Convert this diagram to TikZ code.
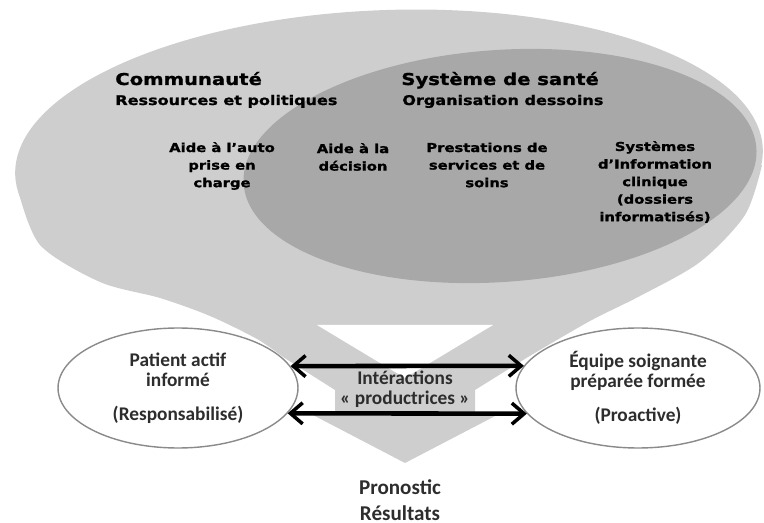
\documentclass[tikz,border=0pt]{standalone}
\usepackage{fontspec}
\setmainfont{Carlito}
\newfontfamily\heavyfont[FakeStretch=1.2,FakeBold=1.2]{DejaVu Sans Bold}
\usetikzlibrary{arrows.meta,shapes.geometric}
\definecolor{commgray}{RGB}{206,206,206}
\definecolor{santegray}{RGB}{168,168,168}
\definecolor{rimgray}{RGB}{138,138,138}
\definecolor{inkgray}{RGB}{45,45,45}
\begin{document}
\begin{tikzpicture}[x=0.02cm, y=-0.02cm,
    title/.style={font=\heavyfont\fontsize{9.3}{11}\selectfont, anchor=base west, inner sep=0pt},
    subtitle/.style={font=\heavyfont\fontsize{7.6}{10}\selectfont, anchor=base west, inner sep=0pt},
    item/.style={font=\heavyfont\fontsize{7}{10}\selectfont, align=center, inner sep=0pt},
    actor/.style={ellipse, draw=rimgray, line width=0.8pt, fill=white, minimum width=4.8cm,
        minimum height=2.4cm, align=center, text=inkgray, font=\bfseries\fontsize{11}{11.3}\selectfont},
    interact/.style={<->, >={Straight Barb[length=7pt,width=12pt,line width=2pt]}, line width=2.6pt},
    caption/.style={align=center, text=inkgray, inner sep=0pt}]
    \useasboundingbox (0,0) rectangle (764,523);
    % communaute and funnel
    \fill[commgray, rotate around={2:(389,162)}] (389,162) ellipse [x radius=374, y radius=152];
    \fill[commgray] plot[smooth] coordinates {(18,190) (40,245) (100,282) (160,298) (210,316) (257,339) (283,357)}
        -- (335,390) -- (335,414) -- (311,414) -- (405,463) -- (499,414) -- (475,414) -- (475,390)
        -- plot[smooth] coordinates {(528,357) (590,321) (640,296) (700,262) (745,215) (762,165)}
        -- (400,200) -- cycle;
    \fill[white] (317,325) -- (493,325) -- (405,378) -- cycle;
    % systeme de sante
    \fill[santegray, rotate around={4:(500,166)}] (500,166) ellipse [x radius=257, y radius=116];
    \node[title] (communaute) at (115,85) {Communauté};
    \node[subtitle] (ressources) at (115,105) {Ressources et politiques};
    \node[title] (systeme) at (401,85) {Système de santé};
    \node[subtitle] (organisation) at (402,105) {Organisation dessoins};
    \node[item] (auto) at (222,166) {Aide à l’auto\\prise en\\charge};
    \node[item] (decision) at (353,157) {Aide à la\\décision};
    \node[item] (prestations) at (487,165) {Prestations de\\services et de\\soins};
    \node[item] (information) at (655,182) {Systèmes\\d’Information\\clinique\\(dossiers\\informatisés)};
    % acteurs
    \node[actor] (patient) at (178,388) {Patient actif\\informé\\[8pt](Responsabilisé)};
    \node[actor, minimum width=4.88cm] (equipe) at (638,388) {Équipe soignante\\préparée formée\\[8pt](Proactive)};
    \draw[interact] (patient.11) -- (equipe.169);
    \draw[interact] (patient.-13) -- (equipe.193);
    \node[caption, font=\bfseries\fontsize{11}{11.3}\selectfont] (interactions) at (405,389) {Intéractions\\«~productrices~»};
    \node[caption, font=\bfseries\fontsize{12}{14.7}\selectfont] (pronostic) at (400,500) {Pronostic\\Résultats};
\end{tikzpicture}
\end{document}
